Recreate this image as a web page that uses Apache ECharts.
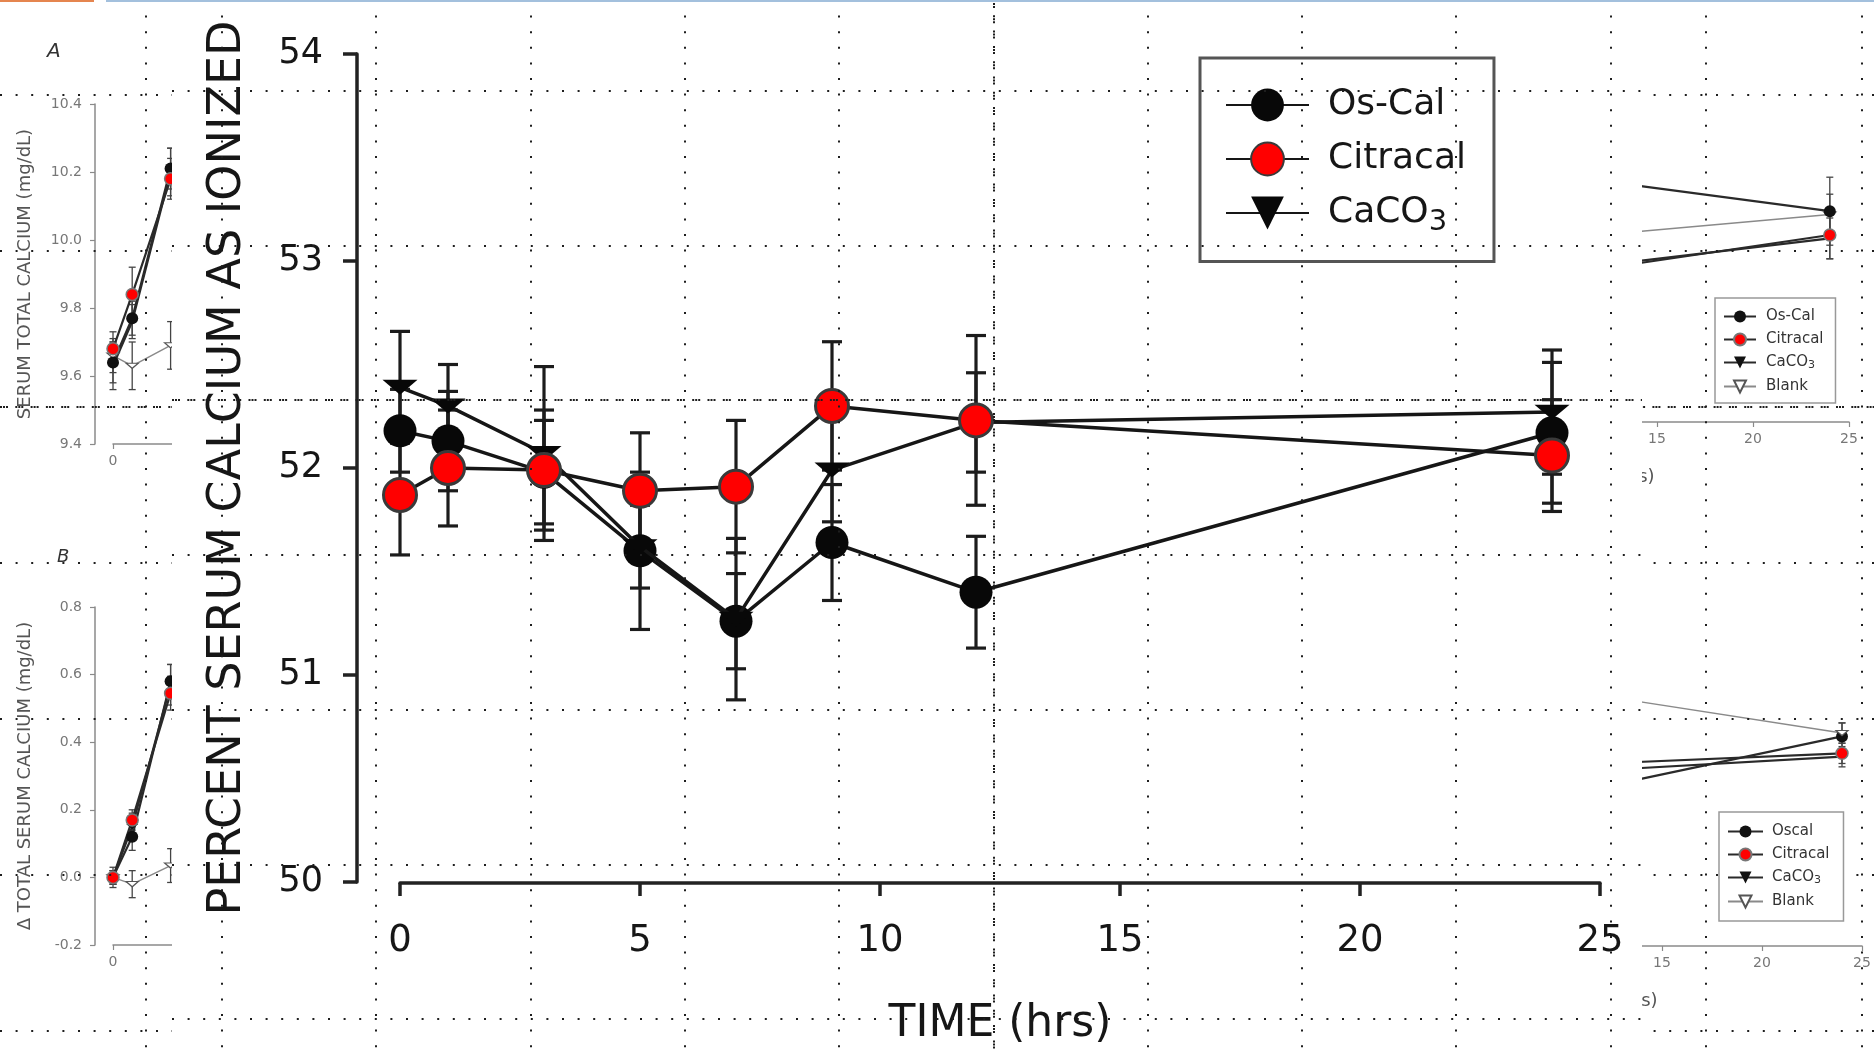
<!DOCTYPE html>
<html><head><meta charset="utf-8">
<script src="https://cdn.jsdelivr.net/npm/echarts@6/dist/echarts.min.js"></script>
<style>html,body{margin:0;padding:0;background:#fff;}#chart{width:1874px;height:1052px;}</style>
</head><body><div id="chart"></div>
<script>
// ---------------- Main chart data ----------------
const times = [0, 1, 3, 5, 7, 9, 12, 24];
const osCal = [52.18, 52.13, 51.98, 51.60, 51.26, 51.64, 51.40, 52.17];
const osCalErr = [0.20, 0.24, 0.25, 0.38, 0.23, 0.28, 0.27, 0.34];
const citracal = [51.87, 52.00, 51.99, 51.89, 51.91, 52.30, 52.23, 52.06];
const citracalErr = [0.29, 0.28, 0.29, 0.28, 0.32, 0.31, 0.41, 0.27];
const caco3 = [52.39, 52.30, 52.07, 51.62, 51.27, 51.99, 52.22, 52.27];
const caco3Err = [0.27, 0.20, 0.42, 0.20, 0.39, 0.25, 0.24, 0.30];
const mainNames = ['Os-Cal', 'Citracal', 'CaCO3'];

// ------------- Background figure fragments (visible edges only) -------------
const leftTimes = [0, 1, 3];
const leftAOsCal = [9.64, 9.77, 10.21];
const leftAOsCalErr = [0.06, 0.05, 0.06];
const leftACitracal = [9.68, 9.84, 10.18];
const leftACitracalErr = [0.05, 0.08, 0.06];
const leftACaco3 = [9.63, 9.76, 10.20];
const leftACaco3Err = [0.07, 0.05, 0.07];
const leftABlank = [9.66, 9.63, 9.69];
const leftABlankErr = [0.05, 0.07, 0.07];

const leftBOsCal = [0.0, 0.12, 0.58];
const leftBOsCalErr = [0.02, 0.04, 0.05];
const leftBCitracal = [0.0, 0.17, 0.545];
const leftBCitracalErr = [0.02, 0.03, 0.05];
const leftBCaco3 = [0.0, 0.15, 0.57];
const leftBCaco3Err = [0.03, 0.04, 0.06];
const leftBBlank = [0.0, -0.02, 0.035];
const leftBBlankErr = [0.02, 0.04, 0.05];

const rightTimes = [12, 24];
const rightAOsCal = [10.11, 10.02];
const rightAOsCalErr = [0.08, 0.10];
const rightACitracal = [9.85, 9.95];
const rightACitracalErr = [0.06, 0.07];
const rightACaco3 = [9.86, 9.94];
const rightACaco3Err = [0.06, 0.06];
const rightABlank = [9.95, 10.01];
const rightABlankErr = [0.06, 0.06];

const rightBOsCal = [0.27, 0.42];
const rightBOsCalErr = [0.04, 0.04];
const rightBCitracal = [0.34, 0.37];
const rightBCitracalErr = [0.04, 0.03];
const rightBCaco3 = [0.32, 0.36];
const rightBCaco3Err = [0.04, 0.03];
const rightBBlank = [0.54, 0.43];
const rightBBlankErr = [0.04, 0.03];

const panelANames = ['A:Os-Cal', 'A:Citracal', 'A:CaCO3', 'A:Blank'];
const panelBNames = ['B:Oscal', 'B:Citracal', 'B:CaCO3', 'B:Blank'];

// ---------------- styling ----------------
const FONT = 'DejaVu Sans';
const TRI = 'path://M0,0L20,0L10,13Z';
const INK = '#161616';

const chart = echarts.init(document.getElementById('chart'), null, {renderer: 'canvas'});

function pairs(xs, ys) { return xs.map((x, i) => [x, ys[i]]); }

function errorBars(xs, ys, es, gi, st) {
  return {
    type: 'custom', xAxisIndex: gi, yAxisIndex: gi, z: st.z, clip: false, silent: true,
    data: xs.map((x, i) => [x, ys[i], es[i]]),
    renderItem: function (params, api) {
      const x = api.value(0), y = api.value(1), e = api.value(2);
      const hi = api.coord([x, y + e]), lo = api.coord([x, y - e]);
      const h = st.cap / 2;
      const s = {stroke: st.color, lineWidth: st.width};
      return {type: 'group', children: [
        {type: 'line', shape: {x1: hi[0], y1: hi[1], x2: lo[0], y2: lo[1]}, style: s},
        {type: 'line', shape: {x1: hi[0] - h, y1: hi[1], x2: hi[0] + h, y2: hi[1]}, style: s},
        {type: 'line', shape: {x1: lo[0] - h, y1: lo[1], x2: lo[0] + h, y2: lo[1]}, style: s}
      ]};
    }
  };
}

const sideMarks = {
  osCal: {symbol: 'circle', size: 12, item: {color: '#111'}, line: {color: '#2a2a2a', width: 2.2}},
  citracal: {symbol: 'circle', size: 12, item: {color: '#ff0000', borderColor: '#777', borderWidth: 1.5}, line: {color: '#2a2a2a', width: 2.2}},
  caco3: {symbol: TRI, size: [12, 8], item: {color: '#111'}, line: {color: '#2a2a2a', width: 2.2}},
  blank: {symbol: TRI, size: [12, 8], item: {color: '#fff', borderColor: '#555', borderWidth: 1.3}, line: {color: '#8a8a8a', width: 1.5}}
};

function sideLine(name, xs, ys, gi, m) {
  return {
    name: name, type: 'line', xAxisIndex: gi, yAxisIndex: gi, data: pairs(xs, ys),
    symbol: m.symbol, symbolSize: m.size, symbolKeepAspect: true,
    itemStyle: m.item, lineStyle: m.line, z: 1, clip: false, silent: true,
    emphasis: {disabled: true}
  };
}
const sideErr = {color: '#444', width: 1.3, cap: 7, z: 1};

function sideXAxis(gi) {
  return {
    gridIndex: gi, type: 'value', min: 0, max: 25, interval: 5, z: 1,
    axisLine: {onZero: false, lineStyle: {color: '#8a8a8a', width: 1.5}},
    axisTick: {length: 5, lineStyle: {color: '#8a8a8a', width: 1.2}},
    axisLabel: {fontFamily: FONT, fontSize: 14, color: '#777', margin: 10},
    splitLine: {show: false},
    name: 'TIME (hrs)', nameLocation: 'middle', nameGap: 46,
    nameTextStyle: {fontFamily: FONT, fontSize: 18, color: '#555'}
  };
}
function sideYAxis(gi, min, max, name, show) {
  return {
    gridIndex: gi, type: 'value', min: min, max: max, interval: 0.2, offset: 18, z: 1, show: show,
    axisLine: {show: true, onZero: false, lineStyle: {color: '#8a8a8a', width: 1.5}},
    axisTick: {show: true, length: 5, lineStyle: {color: '#8a8a8a', width: 1.2}},
    axisLabel: {fontFamily: FONT, fontSize: 14, color: '#777', margin: 13, formatter: v => v.toFixed(1)},
    splitLine: {show: false},
    name: name, nameLocation: 'middle', nameGap: 61,
    nameTextStyle: {fontFamily: FONT, fontSize: 18, color: '#555'}
  };
}

// ---------------- guides (decorative dotted layout lines) ----------------
const guides = {
  side: {x0: 146, dx: 156, nx: 12, y0: 95, dy: 156, ny: 7, denseRow: 2, denseCol: -1, left: 0, right: 1874, z: 3},
  main: {x0: 222, dx: 154.3, nx: 10, y0: 91, dy: 154.7, ny: 7, denseRow: 2, denseCol: 5, left: 172, right: 1642, z: 30}
};
const SPARSE = [2, 13.6];
const DENSE = [2, 1, 2, 1, 2, 7.3];
function guideLines(g) {
  const els = [];
  for (let i = 0; i < g.nx; i++) {
    const x = Math.round(g.x0 + i * g.dx);
    els.push({type: 'line', z: g.z, silent: true,
      shape: {x1: x, y1: 0, x2: x, y2: 1052},
      style: {stroke: '#1e1e1e', lineWidth: 2, lineDash: i === g.denseCol ? DENSE : SPARSE}});
  }
  for (let j = 0; j < g.ny; j++) {
    const y = Math.round(g.y0 + j * g.dy);
    els.push({type: 'line', z: g.z, silent: true,
      shape: {x1: g.left, y1: y, x2: g.right, y2: y},
      style: {stroke: '#1e1e1e', lineWidth: 2, lineDash: j === g.denseRow ? DENSE : SPARSE}});
  }
  return els;
}

const graphicEls = []
  .concat(guideLines(guides.side))
  .concat([{type: 'rect', z: 5, silent: true, shape: {x: 172, y: 0, width: 1470, height: 1052}, style: {fill: '#ffffff'}}])
  .concat(guideLines(guides.main))
  .concat([
    {type: 'rect', z: 40, silent: true, shape: {x: 0, y: 0, width: 94, height: 2}, style: {fill: '#e5854f'}},
    {type: 'rect', z: 40, silent: true, shape: {x: 106, y: 0, width: 1768, height: 2}, style: {fill: '#a3c0dd'}}
  ]);

const subRich = {sub: {fontFamily: FONT, fontSize: 29, color: INK, padding: [18, 0, 0, 0], verticalAlign: 'bottom'}};
const subRichSmall = {sub: {fontFamily: FONT, fontSize: 11, color: '#333', padding: [6, 0, 0, 0], verticalAlign: 'bottom'}};

const option = {
  animation: false,
  backgroundColor: '#ffffff',
  title: [
    {text: 'A', left: 47, top: 42, padding: 0, z: 1, textStyle: {fontFamily: FONT, fontStyle: 'italic', fontWeight: 'normal', fontSize: 20, color: '#333'}},
    {text: 'B', left: 57, top: 548, padding: 0, z: 1, textStyle: {fontFamily: FONT, fontStyle: 'italic', fontWeight: 'normal', fontSize: 18, color: '#333'}}
  ],
  grid: [
    {left: 400, top: 54, width: 1200, height: 830},
    {left: 113, top: 104, width: 480, height: 340},
    {left: 113, top: 607, width: 480, height: 338},
    {left: 1369, top: 82, width: 480, height: 340},
    {left: 1362, top: 608, width: 500, height: 338}
  ],
  xAxis: [
    {
      gridIndex: 0, type: 'value', min: 0, max: 25, interval: 5, offset: 1, z: 10,
      axisLine: {onZero: false, lineStyle: {color: '#222', width: 3.5}},
      axisTick: {length: 13, lineStyle: {color: '#222', width: 3.5}},
      axisLabel: {fontFamily: FONT, fontSize: 37, color: INK, margin: 40},
      splitLine: {show: false},
      name: 'TIME (hrs)', nameLocation: 'middle', nameGap: 120,
      nameTextStyle: {fontFamily: FONT, fontSize: 44, color: INK}
    },
    sideXAxis(1), sideXAxis(2), sideXAxis(3), sideXAxis(4)
  ],
  yAxis: [
    {
      gridIndex: 0, type: 'value', min: 50, max: 54, interval: 1, offset: 43, z: 10,
      axisLine: {show: true, onZero: false, lineStyle: {color: '#222', width: 3.5}},
      axisTick: {show: true, length: 14, lineStyle: {color: '#222', width: 3.5}},
      axisLabel: {fontFamily: FONT, fontSize: 35, color: INK, margin: 34},
      splitLine: {show: false},
      name: 'PERCENT SERUM CALCIUM AS IONIZED', nameLocation: 'middle', nameGap: 106,
      nameTextStyle: {fontFamily: FONT, fontSize: 46, color: INK}
    },
    sideYAxis(1, 9.4, 10.4, 'SERUM TOTAL CALCIUM (mg/dL)', true),
    sideYAxis(2, -0.2, 0.8, 'Δ TOTAL SERUM CALCIUM (mg/dL)', true),
    sideYAxis(3, 9.4, 10.4, '', false),
    sideYAxis(4, -0.2, 0.8, '', false)
  ],
  legend: [
    {
      data: mainNames, orient: 'vertical', left: 1200, top: 58, z: 10, selectedMode: false,
      itemWidth: 83, itemHeight: 41, itemGap: 18, padding: [29, 28, 25, 25],
      borderColor: '#555', borderWidth: 3, backgroundColor: '#fff',
      formatter: n => n === 'CaCO3' ? 'CaCO{sub|3}' : n,
      textStyle: {fontFamily: FONT, fontSize: 36, color: INK, padding: [0, 0, 0, 14], rich: subRich}
    },
    {
      data: panelANames, orient: 'vertical', left: 1715, top: 298, z: 4, selectedMode: false,
      itemWidth: 32, itemHeight: 15, itemGap: 8, padding: [11, 12, 9, 8],
      borderColor: '#999', borderWidth: 1.5, backgroundColor: '#fff',
      formatter: n => { const s = n.split(':')[1]; return s === 'CaCO3' ? 'CaCO{sub|3}' : s; },
      textStyle: {fontFamily: FONT, fontSize: 15, color: '#333', padding: [0, 0, 0, 5], rich: subRichSmall}
    },
    {
      data: panelBNames, orient: 'vertical', left: 1719, top: 812, z: 4, selectedMode: false,
      itemWidth: 35, itemHeight: 15, itemGap: 8, padding: [12, 14, 12, 8],
      borderColor: '#999', borderWidth: 1.5, backgroundColor: '#fff',
      formatter: n => { const s = n.split(':')[1]; return s === 'CaCO3' ? 'CaCO{sub|3}' : s; },
      textStyle: {fontFamily: FONT, fontSize: 15, color: '#333', padding: [0, 0, 0, 4], rich: subRichSmall}
    }
  ],
  graphic: {elements: graphicEls},
  series: [
    // ---- background fragments ----
    errorBars(leftTimes, leftAOsCal, leftAOsCalErr, 1, sideErr),
    errorBars(leftTimes, leftACitracal, leftACitracalErr, 1, sideErr),
    errorBars(leftTimes, leftACaco3, leftACaco3Err, 1, sideErr),
    errorBars(leftTimes, leftABlank, leftABlankErr, 1, sideErr),
    sideLine('A:Blank', leftTimes, leftABlank, 1, sideMarks.blank),
    sideLine('A:Os-Cal', leftTimes, leftAOsCal, 1, sideMarks.osCal),
    sideLine('A:CaCO3', leftTimes, leftACaco3, 1, sideMarks.caco3),
    sideLine('A:Citracal', leftTimes, leftACitracal, 1, sideMarks.citracal),

    errorBars(leftTimes, leftBOsCal, leftBOsCalErr, 2, sideErr),
    errorBars(leftTimes, leftBCitracal, leftBCitracalErr, 2, sideErr),
    errorBars(leftTimes, leftBCaco3, leftBCaco3Err, 2, sideErr),
    errorBars(leftTimes, leftBBlank, leftBBlankErr, 2, sideErr),
    sideLine('B:Blank', leftTimes, leftBBlank, 2, sideMarks.blank),
    sideLine('B:Oscal', leftTimes, leftBOsCal, 2, sideMarks.osCal),
    sideLine('B:CaCO3', leftTimes, leftBCaco3, 2, sideMarks.caco3),
    sideLine('B:Citracal', leftTimes, leftBCitracal, 2, sideMarks.citracal),

    errorBars(rightTimes, rightAOsCal, rightAOsCalErr, 3, sideErr),
    errorBars(rightTimes, rightACitracal, rightACitracalErr, 3, sideErr),
    errorBars(rightTimes, rightACaco3, rightACaco3Err, 3, sideErr),
    errorBars(rightTimes, rightABlank, rightABlankErr, 3, sideErr),
    sideLine('A:Blank', rightTimes, rightABlank, 3, sideMarks.blank),
    sideLine('A:CaCO3', rightTimes, rightACaco3, 3, sideMarks.caco3),
    sideLine('A:Os-Cal', rightTimes, rightAOsCal, 3, sideMarks.osCal),
    sideLine('A:Citracal', rightTimes, rightACitracal, 3, sideMarks.citracal),

    errorBars(rightTimes, rightBOsCal, rightBOsCalErr, 4, sideErr),
    errorBars(rightTimes, rightBCitracal, rightBCitracalErr, 4, sideErr),
    errorBars(rightTimes, rightBCaco3, rightBCaco3Err, 4, sideErr),
    errorBars(rightTimes, rightBBlank, rightBBlankErr, 4, sideErr),
    sideLine('B:Oscal', rightTimes, rightBOsCal, 4, sideMarks.osCal),
    sideLine('B:CaCO3', rightTimes, rightBCaco3, 4, sideMarks.caco3),
    sideLine('B:Citracal', rightTimes, rightBCitracal, 4, sideMarks.citracal),
    sideLine('B:Blank', rightTimes, rightBBlank, 4, sideMarks.blank),

    // ---- main chart ----
    errorBars(times, osCal, osCalErr, 0, {color: '#1c1c1c', width: 3.2, cap: 20, z: 10}),
    errorBars(times, caco3, caco3Err, 0, {color: '#1c1c1c', width: 3.2, cap: 20, z: 10}),
    errorBars(times, citracal, citracalErr, 0, {color: '#1c1c1c', width: 3.2, cap: 20, z: 10}),
    {
      name: 'Os-Cal', type: 'line', xAxisIndex: 0, yAxisIndex: 0, data: pairs(times, osCal),
      symbol: 'circle', symbolSize: 33, itemStyle: {color: '#080808'},
      lineStyle: {color: INK, width: 3.5}, z: 11, clip: false, emphasis: {disabled: true}
    },
    {
      name: 'CaCO3', type: 'line', xAxisIndex: 0, yAxisIndex: 0, data: pairs(times, caco3),
      symbol: TRI, symbolSize: [35, 23], symbolKeepAspect: true, itemStyle: {color: '#080808'},
      lineStyle: {color: INK, width: 3.5}, z: 12, clip: false, emphasis: {disabled: true}
    },
    {
      name: 'Citracal', type: 'line', xAxisIndex: 0, yAxisIndex: 0, data: pairs(times, citracal),
      symbol: 'circle', symbolSize: 33, itemStyle: {color: '#ff0000', borderColor: '#3a3a3a', borderWidth: 3},
      lineStyle: {color: INK, width: 3.5}, z: 13, clip: false, emphasis: {disabled: true}
    }
  ]
};
chart.setOption(option);
</script></body></html>
